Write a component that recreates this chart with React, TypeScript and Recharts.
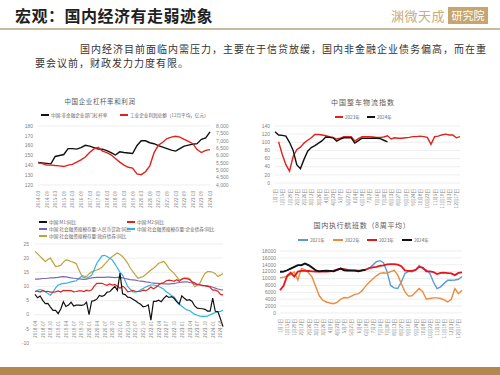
import React from "react";
import { LineChart, Line, XAxis, YAxis, CartesianGrid } from "recharts";

const CJK = '"Noto Sans CJK SC", "Noto Sans", sans-serif';

// chart 1: 中国企业杠杆率和利润
const quarters = [
  "2014-03", "2014-06", "2014-09", "2014-12", "2015-03", "2015-06", "2015-09", "2015-12",
  "2016-03", "2016-06", "2016-09", "2016-12", "2017-03", "2017-06", "2017-09", "2017-12",
  "2018-03", "2018-06", "2018-09", "2018-12", "2019-03", "2019-06", "2019-09", "2019-12",
  "2020-03", "2020-06", "2020-09", "2020-12", "2021-03", "2021-06", "2021-09", "2021-12",
  "2022-03", "2022-06", "2022-09", "2022-12", "2023-03", "2023-06", "2023-09", "2023-12",
  "2024-03",
];
const leverage = [
  143, 142.5, 142, 141.5, 149, 150, 151, 157, 157, 156.5, 158, 160.4, 159.5, 158, 156.5, 156.4,
  155, 153, 150.5, 153.7, 153, 152.5, 152, 160, 165, 165, 163, 162, 160, 158.5, 157, 155.5,
  154.5, 157, 159.5, 160.5, 161.5, 162, 166.5, 168, 174,
];
const profit = [
  5500, 5450, 5350, 5350, 5320, 5300, 5250, 5350, 5400, 5550, 5700, 5900, 6200, 6450, 6550, 6300,
  6200, 6050, 5800, 5550, 5350, 5200, 5150, 4750, 4700, 4900, 5300, 6200, 6700, 6900, 7150, 7250,
  7300, 7250, 7100, 6950, 6800, 6400, 6200, 6350, 6400,
];

// weekly labels (charts 2 and 4)
const weeks = [
  "1月1日", "1月8日", "1月15日", "1月22日", "1月29日", "2月5日", "2月12日", "2月19日", "2月26日",
  "3月5日", "3月12日", "3月19日", "3月26日", "4月2日", "4月9日", "4月16日", "4月23日", "4月30日",
  "5月7日", "5月14日", "5月21日", "5月28日", "6月4日", "6月11日", "6月18日", "6月25日", "7月2日",
  "7月9日", "7月16日", "7月23日", "7月30日", "8月6日", "8月13日", "8月20日", "8月27日", "9月3日",
  "9月10日", "9月17日", "9月24日", "10月1日", "10月8日", "10月15日", "10月22日", "10月29日",
  "11月5日", "11月12日", "11月19日", "11月26日", "12月3日", "12月10日", "12月17日", "12月24日",
];

// chart 2: 中国整车物流指数
const logi2023 = [
  null, 101, 70, 45, 29, 65, 82, 88, 98, 105, 111, 119, 119, 118, 116, 114, 112, 108, 110, 114,
  114, 114, 103, 109, 114, 114, 114, 113, 112, 112, 113, 116, 108, 111, 110, 110, 111, 112, 114,
  114, 115, 114, 112, 95, 114, 115, 118, 120, 118, 118, 111, 114,
];
const logi2024 = [
  126, 118, 117, 115, 100, 80, 45, 35, 58, 78, 87, 92, 98, 104, 113, 112, 111, 103, 108, 111,
  111, 111, 98, 104, 110, 110, 110, 110, 110, 109, 105, 101,
];

// chart 3: 货币与社融
const months = [
  "2018-04", "2018-05", "2018-06", "2018-07", "2018-08", "2018-09", "2018-10", "2018-11", "2018-12",
  "2019-01", "2019-02", "2019-03", "2019-04", "2019-05", "2019-06", "2019-07", "2019-08", "2019-09",
  "2019-10", "2019-11", "2019-12", "2020-01", "2020-02", "2020-03", "2020-04", "2020-05", "2020-06",
  "2020-07", "2020-08", "2020-09", "2020-10", "2020-11", "2020-12", "2021-01", "2021-02", "2021-03",
  "2021-04", "2021-05", "2021-06", "2021-07", "2021-08", "2021-09", "2021-10", "2021-11", "2021-12",
  "2022-01", "2022-02", "2022-03", "2022-04", "2022-05", "2022-06", "2022-07", "2022-08", "2022-09",
  "2022-10", "2022-11", "2022-12", "2023-01", "2023-02", "2023-03", "2023-04", "2023-05", "2023-06",
  "2023-07", "2023-08", "2023-09", "2023-10", "2023-11", "2023-12", "2024-01", "2024-02", "2024-03",
  "2024-04", "2024-05",
];
const m1 = [
  7.2, 6.0, 6.6, 5.1, 3.9, 4.0, 2.7, 1.5, 1.5, 0.4, 2.0, 4.6, 2.9, 3.4, 4.4, 3.1, 3.4, 3.4, 3.3,
  3.5, 4.4, 0.0, 4.8, 5.0, 5.5, 6.8, 6.5, 6.9, 8.0, 8.1, 9.1, 10.0, 8.6, 14.7, 7.4, 7.1, 6.2, 6.1,
  5.5, 4.9, 4.2, 3.7, 2.8, 3.0, 3.5, -1.9, 4.7, 4.7, 5.1, 4.6, 5.8, 6.7, 6.1, 6.4, 5.8, 4.6, 3.7,
  6.7, 5.8, 5.1, 5.3, 4.7, 3.1, 2.3, 2.2, 2.1, 1.9, 1.3, 1.3, 5.9, 1.2, 1.1, -1.4, -4.2,
];
const m2 = [
  8.3, 8.3, 8.0, 8.5, 8.2, 8.3, 8.0, 8.0, 8.1, 8.4, 8.0, 8.6, 8.5, 8.5, 8.5, 8.1, 8.2, 8.4, 8.4,
  8.2, 8.7, 8.4, 8.8, 10.1, 11.1, 11.1, 11.1, 10.7, 10.4, 10.9, 10.5, 10.7, 10.1, 9.4, 10.1, 9.4,
  8.1, 8.3, 8.6, 8.3, 8.2, 8.3, 8.7, 8.5, 9.0, 9.8, 9.2, 9.7, 10.5, 11.1, 11.4, 12.0, 12.2, 12.1,
  11.8, 12.4, 11.8, 12.6, 12.9, 12.7, 12.4, 11.6, 11.3, 10.7, 10.6, 10.3, 10.3, 10.0, 9.7, 8.7,
  8.7, 8.3, 7.2, 7.0,
];
const loans = [
  12.6, 12.6, 12.7, 12.8, 12.8, 12.9, 13.0, 13.0, 13.1, 13.2, 13.4, 13.5, 13.4, 13.2, 13.0, 12.9,
  12.8, 12.7, 12.6, 12.5, 12.6, 12.8, 13.0, 13.1, 13.2, 13.2, 13.2, 13.2, 13.3, 13.3, 13.2, 13.1,
  13.2, 13.2, 13.0, 12.8, 12.6, 12.4, 12.3, 12.2, 12.0, 11.9, 11.8, 11.6, 11.5, 11.3, 11.2, 11.1,
  11.1, 11.0, 10.9, 10.9, 10.8, 11.0, 11.0, 11.2, 11.4, 11.5, 11.6, 11.6, 11.4, 11.2, 10.8, 10.6,
  10.5, 10.4, 10.3, 10.2, 10.0, 9.7, 9.4, 9.1, 8.9, 8.8,
];
const corpBonds = [
  8.1, 8.6, 8.9, 8.6, 8.1, 7.5, 6.9, 8.0, 9.5, 10.5, 10.8, 11.1, 11.1, 11.4, 11.6, 11.8, 12.0, 12.8,
  13.5, 13.2, 12.9, 13.3, 14.0, 16.0, 18.2, 19.5, 20.8, 21.0, 20.6, 20.0, 19.4, 18.0, 16.5, 15.0,
  14.0, 12.0, 9.9, 9.0, 8.1, 8.0, 8.2, 8.8, 9.3, 9.8, 10.2, 10.5, 10.5, 10.3, 10.0, 9.5, 9.0, 8.1,
  7.5, 6.8, 6.3, 5.0, 3.8, 3.0, 2.3, 1.7, 1.5, 0.8, 0.1, -0.2, -0.5, -0.6, -0.6, -0.5, 0.0, 0.4,
  0.8, 1.0, 1.2, 1.6,
];
const govBonds = [
  22.4, 21.5, 20.6, 19.7, 18.8, 19.5, 20.0, 18.5, 17.0, 17.2, 17.5, 18.5, 19.4, 19.2, 18.8, 18.5,
  18.0, 16.0, 14.0, 13.7, 13.5, 14.5, 15.2, 15.5, 15.8, 16.2, 16.8, 17.8, 18.8, 19.8, 20.6, 21.2,
  21.8, 21.3, 20.6, 19.5, 18.2, 16.5, 15.2, 14.0, 12.9, 13.2, 13.5, 14.2, 15.0, 15.8, 16.4, 17.2,
  18.2, 18.5, 18.8, 17.8, 16.4, 15.5, 14.6, 13.5, 12.3, 12.5, 12.9, 13.0, 12.9, 11.5, 9.9, 10.5,
  11.1, 13.0, 14.6, 15.2, 15.2, 15.0, 14.5, 13.5, 14.0, 14.6,
];

// chart 4: 国内执行航班数（8周平均）
const flights2021 = [
  11900, 12000, 12400, 12900, 13300, 13800, 13800, 14200, 13800, 13100, 12400, 12100, 12200,
  12300, 12200, 12100, 12500, 12900, 12400, 12300, 12300, 12300, 12200, 12400, 12600, 13000,
  13900, 14900, 15200, 14600, 12000, 8000, 7300, 7100, 9000, 11500, 12100, 12000, 12500, 13800,
  12900, 12500, 11500, 9000, 7100, 7600, 8600, 9500, 9500, 9600, 9800, 10600,
];
const flights2022 = [
  10200, 10400, 10600, 11200, 11900, 9600, 12900, 12600, 11700, 10400, 7700, 5000, 3700, 3200,
  2900, 2700, 3100, 4000, 4500, 4400, 4900, 5400, 5600, 6500, 7800, 8900, 9900, 10800, 11500,
  11700, 11500, 12000, 12400, 11000, 8500, 6200, 4900, 5000, 6000, 7100, 6200, 4000, 4200, 4400,
  4400, 4200, 3800, 3200, 4000, 7100, 5600, 6600,
];
const flights2023 = [
  6600, 7900, 10800, 11700, 10600, 12000, 12250, 12250, 12200, 12100, 12050, 12050, 12050, 12050,
  12100, 12300, 12600, 12900, 12750, 12550, 12450, 12400, 12300, 12400, 12600, 13000, 13250,
  13400, 13650, 13850, 14100, 14200, 14200, 14050, 13600, 12400, 12250, 12250, 12500, 13400,
  13200, 12100, 12100, 11900, 11300, 11650, 11700, 11600, 11500, 11000, 11650, 11800,
];
const flights2024 = [
  11970, 12000, 12400, 12900, 13400, 13900, 13900, 14400, 13900, 13200, 12400, 12100, 12200,
  12300, 12200, 12100, 12500, 12900, 12400, 12300, 12300, 12300, 12100, 12400, 12500,
];

const chart1 = quarters.map((q, i) => ({ q, leverage: leverage[i], profit: profit[i] }));
const chart2 = weeks.map((w, i) => ({ w, a: logi2023[i], b: logi2024[i] }));
const chart3 = months.map((m, i) => ({
  m, m1: m1[i], m2: m2[i], loans: loans[i], corp: corpBonds[i], gov: govBonds[i],
}));
const chart4 = weeks.map((w, i) => ({
  w, y21: flights2021[i], y22: flights2022[i], y23: flights2023[i], y24: flights2024[i],
}));

const tickStyle = { fontSize: 5, fill: "#7f7f7f", fontFamily: "Liberation Sans, sans-serif" };

function VTick(props: any) {
  const { x, y, payload, shift = 0 } = props;
  const yy = y + shift;
  return (
    <text
      x={x}
      y={yy}
      transform={`rotate(-90, ${x}, ${yy})`}
      textAnchor="end"
      dominantBaseline="central"
      fontSize={4.6}
      fill="#808080"
      fontFamily={CJK}
    >
      {payload.value}
    </text>
  );
}

function Key({ x, y, color, label, w = 8 }: any) {
  return (
    <div style={{ position: "absolute", left: x, top: y - 4, height: 8, display: "flex", alignItems: "center", whiteSpace: "nowrap" }}>
      <div style={{ width: w, height: 1.5, background: color, marginRight: 2 }} />
      <span style={{ fontSize: 4.6, color: "#666", fontFamily: CJK, lineHeight: "8px" }}>{label}</span>
    </div>
  );
}

function Title({ cx, y, text, size = 7, spacing = 0.8 }: any) {
  return (
    <div style={{ position: "absolute", left: cx - 100, width: 200, top: y - 6, textAlign: "center", fontSize: size, letterSpacing: spacing, color: "#595959", fontFamily: CJK, lineHeight: "12px" }}>
      {text}
    </div>
  );
}

export default function App() {
  return (
    <div style={{ position: "relative", width: 500, height: 375, background: "#fff", overflow: "hidden", fontFamily: CJK }}>
      <style>{`body{margin:0}`}</style>

      {/* header */}
      <div style={{ position: "absolute", left: 15, top: 5, fontSize: 16, fontWeight: 700, color: "#1f1f1f", lineHeight: "20px", letterSpacing: 0.5 }}>
        宏观：国内经济有走弱迹象
      </div>
      <div style={{ position: "absolute", left: 391, top: 7, fontSize: 13, color: "#c9ab80", lineHeight: "18px", letterSpacing: 0.5 }}>
        渊微天成
      </div>
      <div style={{ position: "absolute", left: 448, top: 7, width: 40, height: 17, background: "#c6a56f", color: "#fff", fontSize: 11, lineHeight: "17px", textAlign: "center" }}>
        研究院
      </div>
      <div style={{ position: "absolute", left: 0, top: 28, width: 500, height: 1.5, background: "#c8b99c" }} />

      <div style={{ position: "absolute", left: 80, top: 42, fontSize: 10, letterSpacing: 1, color: "#333", lineHeight: "14px", whiteSpace: "nowrap" }}>
        国内经济目前面临内需压力，主要在于信贷放缓，国内非金融企业债务偏高，而在重
      </div>
      <div style={{ position: "absolute", left: 35, top: 56, fontSize: 10, letterSpacing: 1, color: "#333", lineHeight: "14px", whiteSpace: "nowrap" }}>
        要会议前，财政发力力度有限。
      </div>

      {/* chart 1 */}
      <Title cx={100} y={101} text="中国企业杠杆率和利润" size={6.5} spacing={0.6} />
      <Key x={41} y={115} color="#111" label="中国:非金融企业部门杠杆率" />
      <Key x={120} y={115} color="#e3201b" label="工业企业利润总额（12月平均，亿元）" />
      <div style={{ position: "absolute", left: 8, top: 120 }}>
        <LineChart width={232} height={95} data={chart1} margin={{ top: 6, right: 5, bottom: 0, left: 8 }}>
          <CartesianGrid vertical={false} stroke="#e3e3e3" strokeWidth={0.6} />
          <XAxis dataKey="q" interval={1} height={30} axisLine={false} tickLine={false} tickSize={0} tick={<VTick shift={4} />} />
          <YAxis yAxisId="l" domain={[120, 180]} ticks={[120, 130, 140, 150, 160, 170, 180]} interval={0} width={22} axisLine={false} tickLine={false} tickSize={0} tickMargin={5} tick={tickStyle} />
          <YAxis yAxisId="r" orientation="right" domain={[4000, 8000]} ticks={[4000, 4500, 5000, 5500, 6000, 6500, 7000, 7500, 8000]} interval={0} width={25} axisLine={false} tickLine={false} tickSize={0} tickMargin={6} tick={tickStyle} tickFormatter={(v: number) => v.toLocaleString("en-US")} />
          <Line yAxisId="l" dataKey="leverage" stroke="#111" strokeWidth={1.4} dot={false} isAnimationActive={false} />
          <Line yAxisId="r" dataKey="profit" stroke="#e3201b" strokeWidth={1.4} dot={false} isAnimationActive={false} />
        </LineChart>
      </div>

      {/* chart 2 */}
      <Title cx={363} y={102} text="中国整车物流指数" size={7} spacing={1} />
      <Key x={335} y={117} color="#e3201b" label="2023年" />
      <Key x={367} y={117} color="#111" label="2024年" />
      <div style={{ position: "absolute", left: 255, top: 120 }}>
        <LineChart width={210} height={93} data={chart2} margin={{ top: 6, right: 5, bottom: 0, left: 5 }}>
          <CartesianGrid vertical={false} stroke="#e3e3e3" strokeWidth={0.6} />
          <XAxis dataKey="w" interval={1} height={30} axisLine={false} tickLine={false} tickSize={0} tick={<VTick shift={4} />} />
          <YAxis domain={[0, 140]} ticks={[0, 20, 40, 60, 80, 100, 120, 140]} interval={0} width={15} axisLine={false} tickLine={false} tickSize={0} tickMargin={5} tick={tickStyle} />
          <Line dataKey="a" stroke="#e3201b" strokeWidth={1.4} dot={false} isAnimationActive={false} />
          <Line dataKey="b" stroke="#111" strokeWidth={1.4} dot={false} isAnimationActive={false} />
        </LineChart>
      </div>

      {/* chart 3 */}
      <Key x={39} y={222} color="#111" label="中国:M1:同比" />
      <Key x={127} y={222} color="#e3201b" label="中国:M2:同比" />
      <Key x={39} y={229} color="#8068b0" label="中国:社会融资规模存量:人民币贷款:同比" />
      <Key x={127} y={229} color="#2eb4e6" label="中国:社会融资规模存量:企业债券:同比" />
      <Key x={39} y={236} color="#bfa23a" label="中国:社会融资规模存量:政府债券:同比" />
      <div style={{ position: "absolute", left: 5, top: 238 }}>
        <LineChart width={223} height={107} data={chart3} margin={{ top: 6, right: 5, bottom: 0, left: 8 }}>
          <CartesianGrid vertical={false} stroke="#e3e3e3" strokeWidth={0.6} />
          <XAxis dataKey="m" interval={2} height={2} axisLine={false} tickLine={false} tickSize={0} tick={<VTick shift={-24} />} />
          <YAxis domain={[-10, 25]} ticks={[-10, -5, 0, 5, 10, 15, 20, 25]} interval={0} width={22} axisLine={false} tickLine={false} tickSize={0} tickMargin={6} tick={tickStyle} />
          <Line dataKey="gov" stroke="#bfa23a" strokeWidth={1.2} dot={false} isAnimationActive={false} />
          <Line dataKey="corp" stroke="#2eb4e6" strokeWidth={1.2} dot={false} isAnimationActive={false} />
          <Line dataKey="loans" stroke="#8068b0" strokeWidth={1.2} dot={false} isAnimationActive={false} />
          <Line dataKey="m2" stroke="#e3201b" strokeWidth={1.2} dot={false} isAnimationActive={false} />
          <Line dataKey="m1" stroke="#111" strokeWidth={1.2} dot={false} isAnimationActive={false} />
        </LineChart>
      </div>

      {/* chart 4 */}
      <Title cx={362} y={225} text="国内执行航班数（8周平均）" size={7} spacing={0.7} />
      <Key x={298} y={240} color="#5b9bd5" label="2021年" w={10} />
      <Key x={333} y={240} color="#ed8a3a" label="2022年" w={10} />
      <Key x={367} y={240} color="#e8141c" label="2023年" w={10} />
      <Key x={402} y={240} color="#111" label="2024年" w={10} />
      <div style={{ position: "absolute", left: 255, top: 245 }}>
        <LineChart width={212} height={98} data={chart4} margin={{ top: 6, right: 5, bottom: 0, left: 5 }}>
          <CartesianGrid vertical={false} stroke="#e3e3e3" strokeWidth={0.6} />
          <XAxis dataKey="w" interval={1} height={30} axisLine={false} tickLine={false} tickSize={0} tick={<VTick shift={4} />} />
          <YAxis domain={[0, 18000]} ticks={[0, 2000, 4000, 6000, 8000, 10000, 12000, 14000, 16000, 18000]} interval={0} width={20} axisLine={false} tickLine={false} tickSize={0} tickMargin={4} tick={tickStyle} />
          <Line dataKey="y21" stroke="#5b9bd5" strokeWidth={1.4} dot={false} isAnimationActive={false} />
          <Line dataKey="y22" stroke="#ed8a3a" strokeWidth={1.4} dot={false} isAnimationActive={false} />
          <Line dataKey="y23" stroke="#e8141c" strokeWidth={1.8} dot={false} isAnimationActive={false} />
          <Line dataKey="y24" stroke="#111" strokeWidth={1.8} dot={false} isAnimationActive={false} />
        </LineChart>
      </div>

      {/* footer band */}
      <div style={{ position: "absolute", left: 0, top: 367, width: 500, height: 8, background: "#b3884f" }} />
    </div>
  );
}
